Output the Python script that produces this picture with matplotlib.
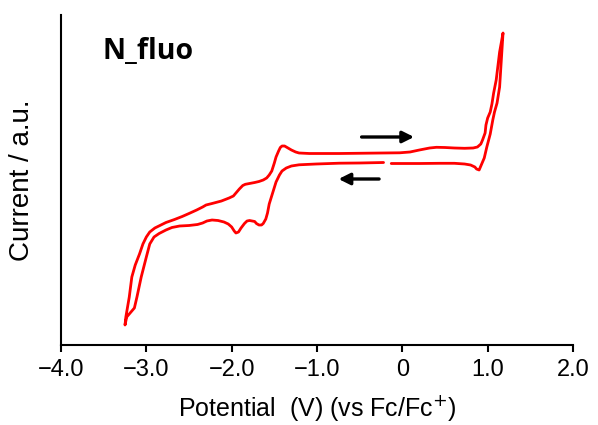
import matplotlib.pyplot as plt

# cyclic voltammogram of N_fluo: potential in V vs Fc/Fc+, current in a.u.
# cathodic sweep from -0.22 V, anodic return to 1.18 V, then back to -0.13 V
potential = [-0.22, -0.50, -0.74, -1.01, -1.21, -1.30, -1.36, -1.41, -1.44, -1.48,
             -1.52, -1.56, -1.58, -1.60, -1.63, -1.65, -1.68, -1.71, -1.73, -1.76,
             -1.79, -1.82, -1.85, -1.89, -1.92, -1.95, -1.97, -2.00, -2.04, -2.09,
             -2.16, -2.23, -2.29, -2.34, -2.40, -2.50, -2.61, -2.70, -2.77, -2.85,
             -2.91, -2.96, -3.00, -3.06, -3.11, -3.14, -3.19, -3.23, -3.25,
             -3.24, -3.22, -3.20, -3.17, -3.13, -3.08, -3.04, -3.00, -2.96, -2.90,
             -2.83, -2.77, -2.67, -2.58, -2.50, -2.41, -2.34, -2.30, -2.23, -2.12,
             -2.03, -1.98, -1.95, -1.91, -1.87, -1.84, -1.79, -1.73, -1.68, -1.63,
             -1.59, -1.56, -1.53, -1.50, -1.48, -1.45, -1.43, -1.41, -1.38, -1.35,
             -1.30, -1.25, -1.21, -1.09, -0.74, -0.27, -0.03, 0.09, 0.20, 0.32,
             0.40, 0.50, 0.61, 0.73, 0.83, 0.88, 0.92, 0.94, 0.97, 0.98,
             1.00, 1.03, 1.05, 1.07, 1.10, 1.12, 1.14, 1.18,
             1.16, 1.14, 1.11, 1.08, 1.06, 1.03, 0.99, 0.96, 0.92, 0.90,
             0.87, 0.85, 0.80, 0.73, 0.61, 0.44, 0.20, -0.13]
current = [1.825, 1.820, 1.818, 1.810, 1.802, 1.790, 1.770, 1.740, 1.700, 1.630,
           1.520, 1.410, 1.320, 1.260, 1.215, 1.200, 1.200, 1.215, 1.235, 1.240,
           1.245, 1.240, 1.215, 1.170, 1.130, 1.120, 1.140, 1.180, 1.210, 1.230,
           1.245, 1.250, 1.240, 1.220, 1.205, 1.195, 1.190, 1.175, 1.150, 1.115,
           1.080, 1.010, 0.880, 0.680, 0.480, 0.370, 0.320, 0.280, 0.200,
           0.280, 0.380, 0.480, 0.680, 0.800, 0.910, 1.010, 1.080, 1.130, 1.170,
           1.200, 1.225, 1.255, 1.285, 1.315, 1.350, 1.380, 1.400, 1.415, 1.440,
           1.470, 1.490, 1.520, 1.560, 1.595, 1.607, 1.615, 1.625, 1.635, 1.650,
           1.670, 1.700, 1.740, 1.820, 1.880, 1.940, 1.975, 1.990, 1.990, 1.975,
           1.950, 1.930, 1.920, 1.915, 1.915, 1.920, 1.922, 1.930, 1.950, 1.970,
           1.977, 1.975, 1.970, 1.967, 1.970, 1.980, 2.010, 2.050, 2.120, 2.200,
           2.270, 2.330, 2.410, 2.520, 2.650, 2.790, 2.930, 3.120,
           2.850, 2.580, 2.420, 2.330, 2.250, 2.110, 1.980, 1.870, 1.790, 1.750,
           1.760, 1.780, 1.800, 1.810, 1.817, 1.817, 1.815, 1.815]

xticks = [-4.0, -3.0, -2.0, -1.0, 0.0, 1.0, 2.0]
xticklabels = ['\u22124.0', '\u22123.0', '\u22122.0', '\u22121.0', '0', '1.0', '2.0']

plt.rcParams['font.family'] = ['Liberation Sans', 'DejaVu Sans']

fig = plt.figure(figsize=(5.98, 4.25), dpi=100)
ax = fig.add_axes([61 / 598, 80 / 425, 512 / 598, 330 / 425])

ax.plot(potential, current, color='#ff0000', lw=2.0,
        solid_joinstyle='round', solid_capstyle='round')

# scan direction arrows
ax.annotate('', xy=(0.17, 2.08), xytext=(-0.51, 2.08),
            arrowprops=dict(arrowstyle='-|>', color='black', lw=2.4, mutation_scale=17))
ax.annotate('', xy=(-0.78, 1.66), xytext=(-0.24, 1.66),
            arrowprops=dict(arrowstyle='-|>', color='black', lw=2.4, mutation_scale=17))

ax.text(0.082, 0.868, 'N_fluo', transform=ax.transAxes, fontsize=20.5,
        fontweight='bold', family='Open Sans', va='baseline', ha='left')

ax.set_xlim(-4.0, 2.0)
ax.set_ylim(0, 3.3)
ax.set_xticks(xticks)
ax.set_xticklabels(xticklabels)
ax.set_yticks([])
ax.spines['top'].set_visible(False)
ax.spines['right'].set_visible(False)
ax.spines['left'].set_linewidth(1.5)
ax.spines['bottom'].set_linewidth(1.5)
ax.tick_params(axis='x', direction='out', length=5, width=1.5, labelsize=17, pad=5)
ax.set_xlabel('Potential  (V) (vs Fc/Fc$^{+}$)', fontsize=18, labelpad=9)
ax.set_ylabel('Current / a.u.', fontsize=20, labelpad=19)

plt.savefig('out.png')
